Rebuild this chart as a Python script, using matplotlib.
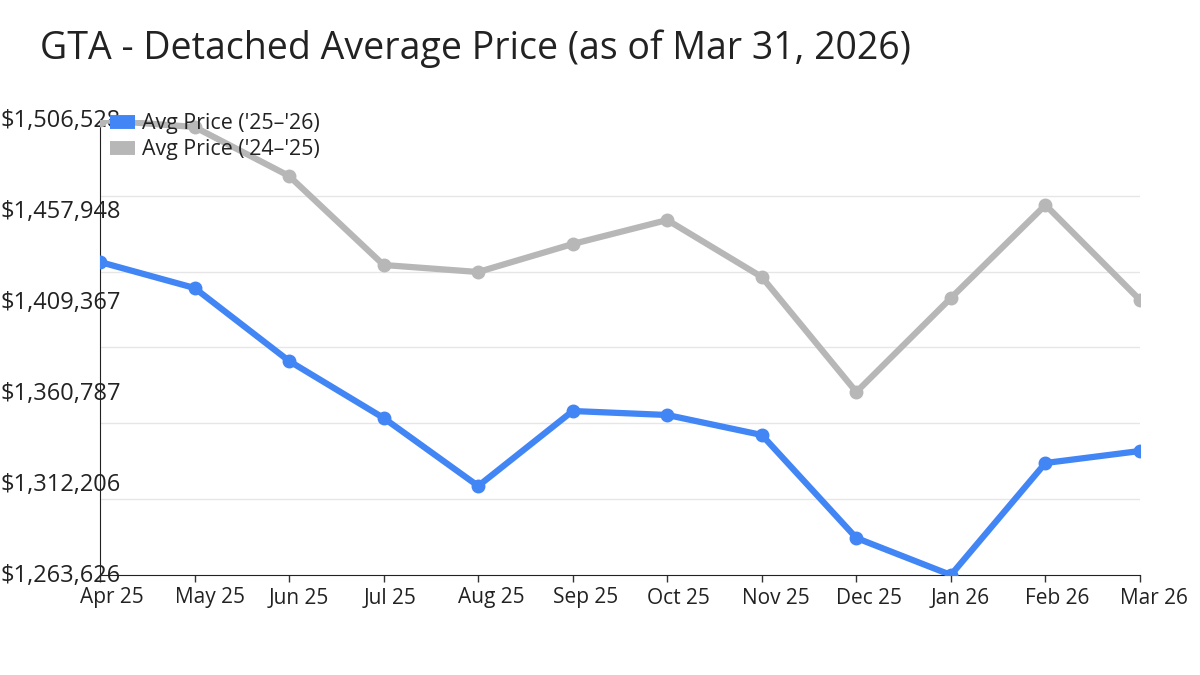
import matplotlib.pyplot as plt
import matplotlib.transforms as mtransforms
import numpy as np

plt.rcParams['font.family'] = ['Open Sans', 'DejaVu Sans']

months = ['Apr 25', 'May 25', 'Jun 25', 'Jul 25', 'Aug 25', 'Sep 25',
          'Oct 25', 'Nov 25', 'Dec 25', 'Jan 26', 'Feb 26', 'Mar 26']

price_25_26 = [1430721, 1416841, 1377870, 1347440, 1311139, 1351177,
               1349042, 1338365, 1283378, 1263626, 1323417, 1329823]
price_24_25 = [1506528, 1502791, 1476632, 1429120, 1425383, 1440330,
               1453143, 1422713, 1361321, 1411502, 1461151, 1410435]

y_min = 1263626
y_max = 1506528
y_labels = ['$1,263,626', '$1,312,206', '$1,360,787',
            '$1,409,367', '$1,457,948', '$1,506,528']

blue = '#4285f4'
grey = '#b7b7b7'

fig = plt.figure(figsize=(12, 6.75), dpi=100)
ax = fig.add_axes([100/1200, 100/675, 1040/1200, 455/675])

x = np.arange(len(months))
ax.plot(x, price_24_25, color=grey, lw=4.5, marker='o', ms=9,
        label="Avg Price ('24–'25)", zorder=3, solid_capstyle='round')
ax.plot(x, price_25_26, color=blue, lw=4.5, marker='o', ms=9,
        label="Avg Price ('25–'26)", zorder=4, solid_capstyle='round')

ax.set_xlim(0, len(months) - 1)
ax.set_ylim(y_min, y_max)
ax.set_xticks(x)
ax.set_xticklabels(months, fontsize=15, color='#222222')
ax.tick_params(axis='x', length=5, width=1, color='#333333', pad=4)
# month labels start a little left of their tick, not centred on it
shift_x = mtransforms.ScaledTranslation(-20/100, 0, fig.dpi_scale_trans)
for lab in ax.get_xticklabels():
    lab.set_horizontalalignment('left')
    lab.set_transform(lab.get_transform() + shift_x)

ax.set_yticks(np.linspace(y_min, y_max, 6))
ax.set_yticklabels(y_labels, fontsize=17, color='#222222')
ax.tick_params(axis='y', length=0, pad=72)
shift_y = mtransforms.ScaledTranslation(0, 2/100, fig.dpi_scale_trans)
for lab in ax.get_yticklabels():
    lab.set_horizontalalignment('left')
    lab.set_verticalalignment('center_baseline')
    lab.set_transform(lab.get_transform() + shift_y)

ax.set_yticks(np.linspace(y_min, y_max, 7), minor=True)
ax.tick_params(axis='y', which='minor', length=0)
ax.grid(True, which='minor', axis='y', color='#e6e6e6', lw=1)
ax.set_axisbelow(True)

for s in ['top', 'right']:
    ax.spines[s].set_visible(False)
ax.spines['left'].set_color('#222222')
ax.spines['bottom'].set_color('#222222')

h, l = ax.get_legend_handles_labels()
leg = fig.legend(h[::-1], l[::-1], loc='upper left',
                 bbox_to_anchor=(110/1200, 1 - 113/675),
                 frameon=False, fontsize=15.4, handlelength=1.15, handletextpad=0.33,
                 labelspacing=0.25, borderaxespad=0, borderpad=0)
for line in leg.get_lines():
    line.set_linewidth(10)
    line.set_marker('')
    line.set_solid_capstyle('butt')
for t in leg.get_texts():
    t.set_color('#222222')

fig.text(40/1200, 1 - 49/675, 'GTA - Detached Average Price (as of Mar 31, 2026)',
         fontsize=27, color='#222222', va='center', ha='left')

fig.savefig('out.png', dpi=100)
